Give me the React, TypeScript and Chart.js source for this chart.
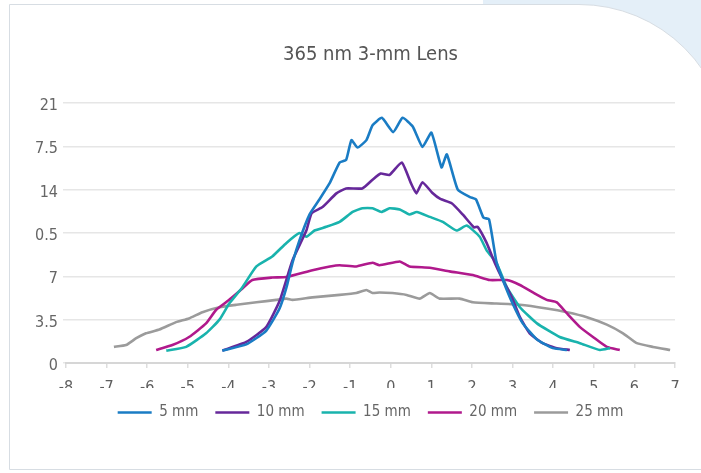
import React, { useEffect, useRef } from "react";
import { Chart, registerables } from "chart.js";

Chart.register(...registerables);

const TITLE = "365 nm 3-mm Lens";
const SERIES_NAMES = ["5 mm", "10 mm", "15 mm", "20 mm", "25 mm"];
const SERIES_COLORS = ["#1a7cc4", "#66289a", "#19b3ad", "#b0198c", "#9b9b9b"];

const X_5 = [-4.15, -3.56, -3.07, -2.74, -2.57, -2.42, -2.25, -2.0, -1.76, -1.51, -1.26, -1.1, -0.97, -0.82, -0.6, -0.45, -0.22, 0.06, 0.29, 0.54, 0.78, 1.0, 1.25, 1.38, 1.65, 1.95, 2.1, 2.28, 2.42, 2.6, 2.76, 3.0, 3.25, 3.6, 3.99, 4.34];
const Y_5 = [1.0, 1.5, 2.6, 4.4, 6.1, 8.1, 9.9, 12.0, 13.2, 14.5, 16.2, 16.4, 18.0, 17.4, 18.0, 19.2, 19.8, 18.65, 19.8, 19.1, 17.45, 18.6, 15.8, 16.85, 14.0, 13.4, 13.2, 11.75, 11.6, 8.2, 6.7, 4.8, 3.2, 1.9, 1.2, 1.05];

const X_10 = [-4.15, -3.56, -3.07, -2.74, -2.42, -2.08, -1.95, -1.68, -1.34, -1.1, -0.7, -0.45, -0.25, -0.03, 0.27, 0.5, 0.63, 0.78, 1.02, 1.22, 1.5, 1.77, 2.05, 2.14, 2.36, 2.56, 2.76, 2.98, 3.18, 3.42, 3.74, 4.09, 4.41];
const Y_10 = [1.0, 1.7, 2.9, 5.0, 8.3, 10.7, 12.1, 12.6, 13.7, 14.1, 14.1, 14.8, 15.3, 15.2, 16.2, 14.5, 13.7, 14.6, 13.75, 13.25, 12.9, 12.0, 10.95, 11.0, 9.7, 8.1, 6.7, 5.3, 3.7, 2.4, 1.6, 1.2, 1.05];

const X_15 = [-5.53, -5.04, -4.55, -4.22, -3.98, -3.66, -3.31, -2.92, -2.57, -2.25, -2.08, -1.88, -1.59, -1.26, -0.94, -0.7, -0.45, -0.23, -0.03, 0.22, 0.46, 0.64, 0.96, 1.28, 1.62, 1.87, 2.19, 2.36, 2.6, 2.86, 3.18, 3.6, 4.16, 4.66, 5.15, 5.4];
const Y_15 = [1.0, 1.3, 2.4, 3.5, 4.8, 6.1, 7.8, 8.6, 9.7, 10.5, 10.2, 10.7, 11.0, 11.4, 12.2, 12.5, 12.5, 12.2, 12.5, 12.4, 12.0, 12.2, 11.8, 11.4, 10.7, 11.1, 10.2, 9.1, 8.1, 6.1, 4.5, 3.2, 2.1, 1.6, 1.05, 1.2];

const X_20 = [-5.78, -5.38, -4.97, -4.55, -4.3, -3.98, -3.66, -3.41, -2.92, -2.57, -1.93, -1.5, -1.26, -0.85, -0.45, -0.28, 0.22, 0.46, 0.96, 1.45, 2.02, 2.44, 2.86, 3.18, 3.5, 3.84, 4.09, 4.34, 4.66, 4.98, 5.32, 5.64];
const Y_20 = [1.05, 1.45, 2.1, 3.2, 4.3, 5.1, 6.0, 6.7, 6.9, 6.95, 7.5, 7.8, 7.9, 7.8, 8.1, 7.9, 8.2, 7.8, 7.7, 7.4, 7.1, 6.7, 6.7, 6.3, 5.7, 5.1, 4.9, 4.0, 2.9, 2.1, 1.3, 1.05];

const X_25 = [-6.82, -6.52, -6.27, -6.03, -5.7, -5.29, -4.97, -4.64, -4.22, -3.8, -3.31, -2.82, -2.57, -2.42, -1.93, -1.26, -0.85, -0.6, -0.45, -0.28, 0.04, 0.39, 0.71, 0.96, 1.2, 1.7, 2.02, 2.6, 3.18, 3.84, 4.34, 4.83, 5.32, 5.72, 6.06, 6.46, 6.88];
const Y_25 = [1.3, 1.45, 2.0, 2.4, 2.7, 3.3, 3.6, 4.1, 4.5, 4.7, 4.9, 5.1, 5.2, 5.1, 5.3, 5.5, 5.65, 5.9, 5.65, 5.7, 5.65, 5.5, 5.2, 5.65, 5.2, 5.2, 4.9, 4.8, 4.7, 4.4, 4.1, 3.7, 3.1, 2.4, 1.6, 1.3, 1.05];

const SERIES_X = [X_5, X_10, X_15, X_20, X_25];
const SERIES_Y = [Y_5, Y_10, Y_15, Y_20, Y_25];

const Y_TICK_LABELS = ["0", "3.5", "7", "0.5", "14", "7.5", "21"];
const X_TICK_LABELS = ["-8", "-7", "-6", "-5", "-4", "-3", "-2", "-1", "0", "1", "2", "3", "4", "5", "6", "7"];
const X_MIN = -8;
const X_MAX = 7;
const Y_MIN = 0;
const Y_MAX = 21;
const Y_STEP = 3.5;

const FONT = "'Liberation Sans Narrow', 'DejaVu Sans Condensed', 'Roboto', sans-serif";

export default function App() {
  const ref = useRef<HTMLCanvasElement | null>(null);

  useEffect(() => {
    if (!ref.current) return;
    const datasets = SERIES_NAMES.map((name, i) => ({
      label: name,
      data: SERIES_X[i].map((x, j) => ({ x, y: SERIES_Y[i][j] })),
      borderColor: SERIES_COLORS[i],
      backgroundColor: SERIES_COLORS[i],
      borderWidth: 2.6,
      pointRadius: 0,
      showLine: true,
      tension: 0.15,
    }));
    const chart = new Chart(ref.current, {
      type: "scatter",
      data: { datasets },
      options: {
        animation: false,
        responsive: false,
        maintainAspectRatio: false,
        layout: { padding: { top: 0, left: 0, right: 26, bottom: 43 } },
        plugins: {
          title: {
            display: true,
            text: TITLE,
            color: "#555555",
            fullSize: false,
            font: { family: FONT, size: 20, weight: "normal" },
            padding: { top: 43, bottom: 36 },
          },
          legend: {
            display: true,
            position: "bottom",
            fullSize: false,
            labels: {
              usePointStyle: true,
              pointStyle: "line",
              pointStyleWidth: 34,
              padding: 17,
              color: "#666666",
              font: { family: FONT, size: 15 },
            },
          },
          tooltip: { enabled: false },
        },
        scales: {
          x: {
            type: "linear",
            min: X_MIN,
            max: X_MAX,
            afterFit: (s: any) => { s.height = 25; },
            ticks: {
              stepSize: 1,
              padding: 10.5,
              color: "#5e5e5e",
              font: { family: FONT, size: 16 },
              callback: (_v: any, i: number) => X_TICK_LABELS[i] ?? "",
            },
            grid: { drawOnChartArea: false, drawTicks: true, tickLength: 5, color: "#dddddd", lineWidth: 1.5 },
            border: { display: true, color: "#d6d6d6", width: 2 },
          },
          y: {
            type: "linear",
            min: Y_MIN,
            max: Y_MAX,
            afterFit: (s: any) => { s.width = 66; },
            ticks: {
              stepSize: Y_STEP,
              padding: 5,
              labelOffset: 3,
              color: "#666666",
              font: { family: FONT, size: 16 },
              callback: (_v: any, i: number) => Y_TICK_LABELS[i] ?? "",
            },
            grid: { color: "#e6e6e6", lineWidth: 1.5, tickLength: 3 },
            border: { display: false },
          },
        },
      } as any,
    });
    return () => chart.destroy();
  }, []);

  return (
    <div style={{ position: "absolute", left: 0, top: 0, width: 701, height: 473, overflow: "hidden", background: "#ffffff" }}>
      <div style={{ position: "absolute", left: 483, top: 0, width: 218, height: 170, background: "#e4eff8" }} />
      <div
        style={{
          position: "absolute",
          left: 9,
          top: 4,
          width: 720,
          height: 466,
          background: "#ffffff",
          border: "1px solid #d7dde3",
          borderTopRightRadius: 150,
          boxSizing: "border-box",
        }}
      />
      <canvas ref={ref} width={701} height={473} style={{ position: "absolute", left: 0, top: 0, width: 701, height: 473 }} />
    </div>
  );
}
